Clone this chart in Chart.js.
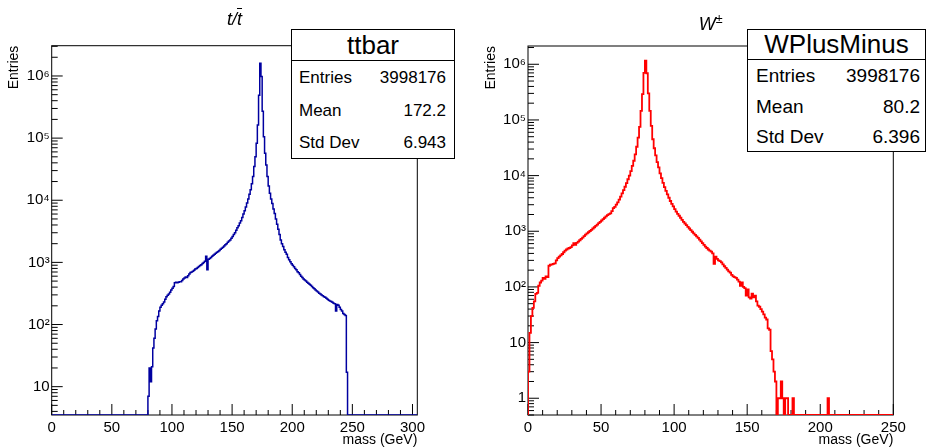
<!DOCTYPE html>
<html>
<head>
<meta charset="utf-8">
<script src="https://cdn.jsdelivr.net/npm/chart.js@4.4.1/dist/chart.umd.min.js"></script>
<style>
  html, body { margin:0; padding:0; background:#fff; }
  body { position:relative; width:927px; height:447px; overflow:hidden; font-family:"Liberation Sans", Arial, Helvetica, sans-serif; color:#000; }
  canvas { position:absolute; top:0; }
  #cT { left:0; }
  #cW { left:464px; }
  .htitle { position:absolute; top:8px; font-size:18px; font-style:italic; transform:translateX(-50%); white-space:nowrap; line-height:22px; }
  .stats { position:absolute; background:#fff; border:1px solid #000; box-sizing:border-box; }
  .stats .hd { position:absolute; left:0; right:0; top:0; border-bottom:1px solid #000; text-align:center; }
  .stats .row { position:absolute; display:flex; justify-content:space-between; white-space:nowrap; }
</style>
</head>
<body>
<canvas id="cT" width="464" height="447"></canvas>
<canvas id="cW" width="463" height="447"></canvas>
<div class="htitle" style="left:234.5px;">t/<span style="text-decoration:overline;">t</span></div>
<div class="htitle" style="left:710.6px;">W<sup style="font-size:12.5px;">&plusmn;</sup></div>
<div id="statsT" class="stats" style="left:291px;top:29px;width:164px;height:130px;"></div>
<div id="statsW" class="stats" style="left:747px;top:29px;width:179px;height:123px;"></div>
<script>
// ---------------- DATA ----------------
// ttbar (t / tbar) mass histogram: 1 GeV bins, first non-empty bin starts at 80 GeV
const ttbarFirstBin = 80;
const ttbarBinWidth = 1;
const ttbarCounts = [
  7,20,12,21,42,60,85,115,135,165,
  190,205,215,230,255,280,295,310,330,360,
  385,410,470,480,470,480,490,490,510,540,
  560,580,570,610,650,690,700,720,750,780,
  800,830,860,890,920,960,1000,1040,1250,760,
  1120,1150,1200,1250,1300,1350,1400,1450,1500,1560,
  1620,1690,1760,1830,1920,2000,2100,2200,2300,2450,
  2600,2800,3000,3300,3600,3900,4300,4700,5300,6000,
  6800,7800,9000,10500,12500,14800,18500,24000,35000,50000,
  83000,162000,490000,1600000,980000,270000,105000,57000,37000,24000,
  17000,13000,10500,8900,7200,6100,5000,4100,3400,2800,
  2300,2000,1800,1600,1450,1350,1200,1100,1020,950,
  900,850,800,760,710,680,640,600,570,540,
  520,500,480,460,445,430,410,390,375,360,
  345,335,320,310,300,290,280,275,265,255,
  245,240,235,228,220,215,165,210,205,190,
  175,165,150,145,140,17
];
const ttbarXRange = [0, 304];
const ttbarYRange = [3.5, 3.07e6];
const ttbarXTicks = [0, 50, 100, 150, 200, 250, 300];
const ttbarXTickLabels = ['0', '50', '100', '150', '200', '250', '300'];
const ttbarYTicks = [10, 100, 1e3, 1e4, 1e5, 1e6];
const ttbarYTickLabels = ['10', '10\u00B2', '10\u00B3', '10\u2074', '10\u2075', '10\u2076'];
const ttbarStatsTitle = 'ttbar';
const ttbarStatsNames = ['Entries', 'Mean', 'Std Dev'];
const ttbarStatsValues = ['3998176', '172.2', '6.943'];

// W+- mass histogram: 1 GeV bins starting at 0 GeV
const wFirstBin = 0;
const wBinWidth = 1;
const wCounts = [
  3,15,30,42,55,75,78,105,120,130,
  145,140,155,150,240,250,255,260,265,300,
  330,350,370,390,420,450,470,490,500,520,
  560,610,570,620,650,690,730,770,820,870,
  920,960,1010,1060,1120,1180,1250,1320,1400,1480,
  1560,1650,1750,1850,1950,2030,2100,2300,2600,2750,
  3000,3300,3700,4200,4800,5500,6300,7300,8600,10000,
  12000,15000,18500,24000,33000,48000,75000,145000,290000,700000,
  1160000,690000,300000,145000,78000,45000,31000,23000,17500,14000,
  11000,9000,7400,6200,5300,4600,4000,3500,3100,2800,
  2500,2250,2050,1900,1750,1600,1480,1380,1290,1200,
  1120,1050,980,920,860,810,760,710,660,610,
  570,530,500,470,450,430,400,260,350,320,
  300,290,275,255,235,220,205,190,180,165,
  155,150,145,135,125,105,120,100,95,70,
  90,65,62,76,65,70,55,46,44,40,
  36,32,28,26,18,17,7,5,3,2,
  0,1,1,2,1,0,1,1,0,0,
  0,1,0,0,0,0,0,0,0,0,
  0,0,0,0,0,0,0,0,0,0,
  0,0,0,0,0,1
];
const wXRange = [0, 250];
const wYRange = [0.5, 2.13e6];
const wXTicks = [0, 50, 100, 150, 200, 250];
const wXTickLabels = ['0', '50', '100', '150', '200', '250'];
const wYTicks = [1, 10, 100, 1e3, 1e4, 1e5, 1e6];
const wYTickLabels = ['1', '10', '10\u00B2', '10\u00B3', '10\u2074', '10\u2075', '10\u2076'];
const wStatsTitle = 'WPlusMinus';
const wStatsNames = ['Entries', 'Mean', 'Std Dev'];
const wStatsValues = ['3998176', '80.2', '6.396'];

// ---------------- HELPERS ----------------
const FONT = '"Liberation Sans", Arial, Helvetica, sans-serif';
Chart.defaults.font.family = FONT;
Chart.defaults.color = '#000';

// Build histogram step points (low bin edges). Empty bins sit on the axis floor, as in ROOT.
function histPoints(first, width, counts, xRange, yMin) {
  const pts = [];
  if (first > xRange[0]) pts.push({x: xRange[0], y: yMin});
  else pts.push({x: first, y: yMin});
  counts.forEach((c, i) => pts.push({x: first + i * width, y: c > 0 ? c : yMin}));
  const end = first + counts.length * width;
  pts.push({x: end, y: yMin});
  if (end < xRange[1]) pts.push({x: xRange[1], y: yMin});
  return pts;
}

// ROOT-like frame with inward tick marks
const rootFrame = {
  id: 'rootFrame',
  beforeDatasetsDraw(chart, args, opts) {
    const {ctx, chartArea: a, scales: {x, y}} = chart;
    ctx.save();
    ctx.strokeStyle = '#000';
    ctx.lineWidth = 1;
    ctx.strokeRect(a.left, a.top, a.right - a.left, a.bottom - a.top);
    ctx.beginPath();
    for (let v = x.min; v <= x.max + 1e-9; v += opts.xMinor) {
      const px = x.getPixelForValue(v);
      const isMajor = Math.abs(v / opts.xMajor - Math.round(v / opts.xMajor)) < 1e-9;
      const len = isMajor ? 11 : 5;
      ctx.moveTo(px, a.bottom);
      ctx.lineTo(px, a.bottom - len);
    }
    const e0 = Math.floor(Math.log10(y.min)), e1 = Math.ceil(Math.log10(y.max));
    for (let e = e0; e <= e1; e++) {
      for (let k = 1; k <= 9; k++) {
        const v = k * Math.pow(10, e);
        if (v < y.min || v > y.max) continue;
        const py = y.getPixelForValue(v);
        const len = k === 1 ? 11 : 6;
        ctx.moveTo(a.left, py);
        ctx.lineTo(a.left + len, py);
      }
    }
    ctx.stroke();
    ctx.restore();
  }
};

function makeChart(canvasId, cfg) {
  const pts = histPoints(cfg.first, cfg.width, cfg.counts, cfg.xRange, cfg.yRange[0]);
  return new Chart(document.getElementById(canvasId), {
    type: 'line',
    data: {
      datasets: [{
        data: pts,
        borderColor: cfg.color,
        borderWidth: cfg.lineWidth,
        pointRadius: 0,
        stepped: true,
        fill: false,
        tension: 0
      }]
    },
    plugins: [rootFrame],
    options: {
      responsive: false,
      animation: false,
      devicePixelRatio: 1,
      events: [],
      layout: {padding: {top: cfg.padTop, right: cfg.padRight, left: 0, bottom: 0}},
      plugins: {
        legend: {display: false},
        tooltip: {enabled: false},
        title: {display: false},
        rootFrame: {xMajor: 50, xMinor: 10}
      },
      scales: {
        x: {
          type: 'linear',
          min: cfg.xRange[0], max: cfg.xRange[1],
          bounds: 'data',
          grid: {display: false, drawTicks: false},
          border: {display: false},
          afterBuildTicks: s => { s.ticks = cfg.xTicks.map(v => ({value: v})); },
          afterFit: s => { s.height = 32; },
          ticks: {
            autoSkip: false, maxRotation: 0, padding: 4,
            font: {size: 15, family: FONT}, color: '#000',
            callback: (v, i) => cfg.xTickLabels[i]
          },
          title: {
            display: true, text: 'mass (GeV)', align: 'end', color: '#000',
            font: {size: 14, family: FONT, lineHeight: 1.0},
            padding: {top: 0, bottom: 0}
          }
        },
        y: {
          type: 'logarithmic',
          min: cfg.yRange[0], max: cfg.yRange[1],
          bounds: 'data',
          grid: {display: false, drawTicks: false},
          border: {display: false},
          afterBuildTicks: s => { s.ticks = cfg.yTicks.map(v => ({value: v})); },
          afterFit: s => { s.width = cfg.yWidth; },
          ticks: {
            autoSkip: false, padding: 2,
            font: {size: 15, family: FONT}, color: '#000',
            callback: (v, i) => cfg.yTickLabels[i]
          },
          title: {
            display: true, text: 'Entries', align: 'end', color: '#000',
            font: {size: 14, family: FONT, lineHeight: 1.2},
            padding: {top: cfg.yTitlePad, bottom: 0}
          }
        }
      }
    }
  });
}

makeChart('cT', {
  first: ttbarFirstBin, width: ttbarBinWidth, counts: ttbarCounts,
  xRange: ttbarXRange, yRange: ttbarYRange,
  xTicks: ttbarXTicks, xTickLabels: ttbarXTickLabels,
  yTicks: ttbarYTicks, yTickLabels: ttbarYTickLabels,
  color: '#0000a0', lineWidth: 1.5,
  padTop: 45.7, padRight: 46.7, yWidth: 51.7, yTitlePad: 5.6
});
makeChart('cW', {
  first: wFirstBin, width: wBinWidth, counts: wCounts,
  xRange: wXRange, yRange: wYRange,
  xTicks: wXTicks, xTickLabels: wXTickLabels,
  yTicks: wYTicks, yTickLabels: wYTickLabels,
  color: '#ff0000', lineWidth: 1.8,
  padTop: 46, padRight: 33.7, yWidth: 64, yTitlePad: 18.6
});

// ---------------- STATS BOXES (HTML text) ----------------
function fillStats(id, title, names, values, st) {
  const box = document.getElementById(id);
  const hd = document.createElement('div');
  hd.className = 'hd';
  hd.style.height = st.hdH + 'px';
  hd.style.lineHeight = st.hdH + 'px';
  hd.style.fontSize = st.titleSize + 'px';
  hd.textContent = title;
  box.appendChild(hd);
  names.forEach((n, i) => {
    const r = document.createElement('div');
    r.className = 'row';
    r.style.left = st.padL + 'px';
    r.style.right = st.padR + 'px';
    r.style.top = st.rowTops[i] + 'px';
    r.style.fontSize = st.rowSize + 'px';
    r.style.lineHeight = st.rowLH + 'px';
    const a = document.createElement('span'); a.textContent = n;
    const b = document.createElement('span'); b.textContent = values[i];
    r.appendChild(a); r.appendChild(b);
    box.appendChild(r);
  });
}
fillStats('statsT', ttbarStatsTitle, ttbarStatsNames, ttbarStatsValues,
  {hdH: 30, titleSize: 26, padL: 7, padR: 8, rowTops: [38, 71, 103], rowSize: 17, rowLH: 20});
fillStats('statsW', wStatsTitle, wStatsNames, wStatsValues,
  {hdH: 29, titleSize: 26, padL: 8, padR: 5, rowTops: [35, 66, 96], rowSize: 19, rowLH: 22});
</script>
</body>
</html>
